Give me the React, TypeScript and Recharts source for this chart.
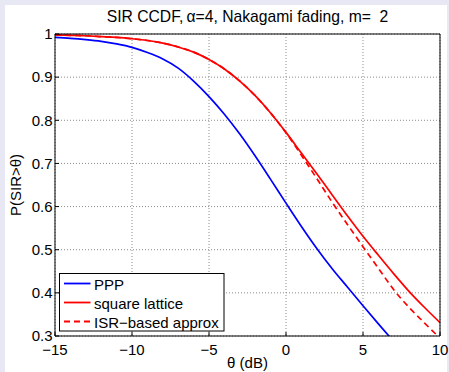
import React from 'react';
import { LineChart, Line, XAxis, YAxis, CartesianGrid, Legend } from 'recharts';

const theta = [-15, -14, -13, -12, -11, -10, -9, -8, -7, -6, -5, -4, -3, -2, -1, 0, 1, 2, 3, 4, 5, 6, 7, 8, 9, 10];
const ppp = [0.992, 0.99, 0.987, 0.983, 0.977, 0.969, 0.957, 0.942, 0.921, 0.891, 0.855, 0.814, 0.768, 0.717, 0.663, 0.608, 0.554, 0.503, 0.456, 0.413, 0.37, 0.328, 0.287, null, null, null];
const lattice = [0.998, 0.997, 0.996, 0.994, 0.992, 0.989, 0.985, 0.979, 0.97, 0.958, 0.941, 0.919, 0.891, 0.857, 0.817, 0.772, 0.724, 0.676, 0.627, 0.578, 0.531, 0.487, 0.444, 0.403, 0.366, 0.331];
const isrApprox = [0.998, 0.997, 0.996, 0.994, 0.992, 0.989, 0.985, 0.979, 0.97, 0.958, 0.941, 0.919, 0.891, 0.857, 0.817, 0.771, 0.719, 0.665, 0.61, 0.558, 0.507, 0.457, 0.407, 0.366, 0.33, 0.295];

const xTicks = [-15, -10, -5, 0, 5, 10];
const yTicks = [0.3, 0.4, 0.5, 0.6, 0.7, 0.8, 0.9, 1];

const seriesNames = ['PPP', 'square lattice', 'ISR\u2212based approx'];
const seriesKeys = ['ppp', 'lattice', 'isr'];
const seriesColors = ['#0000ff', '#ff0000', '#ff0000'];
const seriesDash = ['', '', '6 4'];

const titleText = 'SIR CCDF,\u2009\u03b1=4, Nakagami fading, m=  2';
const xLabel = '\u03b8 (dB)';
const yLabel = 'P(SIR>\u03b8)';

const FONT = '"Liberation Sans", Arial, Helvetica, sans-serif';

const data = theta.map((t, i) => ({ theta: t, ppp: ppp[i], lattice: lattice[i], isr: isrApprox[i] }));

const fmt = (v: number) => String(v).replace('-', '\u2212');

const renderLegend = () => (
  <svg width={166} height={59} style={{ display: 'block' }}>
    <rect x={0.5} y={0.5} width={164.5} height={57.5} fill="#fff" stroke="#000" strokeWidth={1} />
    {seriesNames.map((name, i) => {
      const cy = 10.5 + i * 19;
      return (
        <g key={name}>
          <line x1={5} x2={31.5} y1={cy} y2={cy} stroke={seriesColors[i]} strokeWidth={1.8} strokeDasharray={seriesDash[i] || undefined} />
          <text x={35} y={cy + 6} fontSize={15} fontFamily={FONT} fill="#000">{name}</text>
        </g>
      );
    })}
  </svg>
);

export default function App() {
  return (
    <div style={{ position: 'absolute', left: 0, top: 0, width: 449, height: 372, background: '#e8e8f4', overflow: 'hidden' }}>
      <div style={{ position: 'absolute', left: 5, top: 5, width: 442, height: 367, background: '#ffffff' }} />
      <div style={{ position: 'absolute', left: 0, top: 0 }}>
        <LineChart width={449} height={372} data={data} margin={{ top: 0, right: 0, bottom: 0, left: 0 }}>
          <CartesianGrid stroke="#8c8c8c" strokeDasharray="1 2" strokeWidth={1} />
          <XAxis
            dataKey="theta"
            type="number"
            domain={[-15, 10]}
            ticks={xTicks}
            interval={0}
            height={36}
            tickSize={-4}
            tickMargin={12}
            tickFormatter={fmt}
            axisLine={{ stroke: '#000' }}
            tickLine={{ stroke: '#000' }}
            tick={{ fill: '#000', fontSize: 15, fontFamily: FONT }}
          />
          <XAxis
            xAxisId="top"
            orientation="top"
            dataKey="theta"
            type="number"
            domain={[-15, 10]}
            ticks={xTicks}
            interval={0}
            height={34}
            tickSize={-4}
            tick={false}
            axisLine={{ stroke: '#000' }}
            tickLine={{ stroke: '#000' }}
          />
          <YAxis
            type="number"
            domain={[0.3, 1]}
            ticks={yTicks}
            interval={0}
            allowDataOverflow
            width={55}
            tickSize={-4}
            tickMargin={6.5}
            tickFormatter={fmt}
            axisLine={{ stroke: '#000' }}
            tickLine={{ stroke: '#000' }}
            tick={{ fill: '#000', fontSize: 15, fontFamily: FONT }}
          />
          <YAxis
            yAxisId="right"
            orientation="right"
            type="number"
            domain={[0.3, 1]}
            ticks={yTicks}
            interval={0}
            allowDataOverflow
            width={9}
            tickSize={-4}
            tick={false}
            axisLine={{ stroke: '#000' }}
            tickLine={{ stroke: '#000' }}
          />
          {seriesKeys.map((k, i) => (
            <Line
              key={k}
              dataKey={k}
              name={seriesNames[i]}
              type="monotone"
              stroke={seriesColors[i]}
              strokeWidth={1.7}
              strokeDasharray={seriesDash[i] || undefined}
              dot={false}
              activeDot={false}
              isAnimationActive={false}
            />
          ))}
          <Legend
            layout="vertical"
            align="center"
            verticalAlign="middle"
            content={renderLegend}
            wrapperStyle={{ left: 59, top: 273, width: 166, height: 59 }}
          />
        </LineChart>
      </div>
      <svg width={449} height={372} style={{ position: 'absolute', left: 0, top: 0, pointerEvents: 'none' }}>
        <text x={247.5} y={21.5} textAnchor="middle" fontSize={15.7} fontFamily={FONT} fill="#000" style={{ whiteSpace: 'pre' }}>{titleText}</text>
        <text x={247.5} y={367.5} textAnchor="middle" fontSize={15} fontFamily={FONT} fill="#000">{xLabel}</text>
        <text x={21} y={185} textAnchor="middle" fontSize={15} fontFamily={FONT} fill="#000" transform="rotate(-90, 21, 185)">{yLabel}</text>
      </svg>
    </div>
  );
}
